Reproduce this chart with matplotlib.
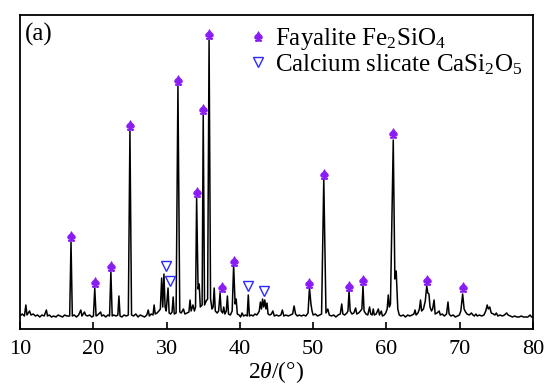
import numpy as np
import matplotlib
matplotlib.use('Agg')
import matplotlib.pyplot as plt
from matplotlib.lines import Line2D

plt.rcParams['font.family'] = ['Liberation Serif', 'DejaVu Serif']
plt.rcParams['mathtext.fontset'] = 'custom'
plt.rcParams['mathtext.rm'] = 'Liberation Serif'
plt.rcParams['mathtext.it'] = 'Liberation Serif:italic'

# XRD pattern (2theta in degrees, intensity in arbitrary units)
two_theta = [10.0, 10.3, 10.6, 10.8, 10.95, 11.3, 11.5, 11.8, 12.1, 12.4, 12.7, 13.0, 13.3, 13.6, 13.75,
             14.0, 14.3, 14.6, 14.9, 15.2, 15.5, 15.8, 16.1, 16.4, 16.78, 16.96, 17.14, 17.4, 17.7, 18.0,
             18.3, 18.45, 18.8, 18.95, 19.2, 19.5, 19.8, 20.02, 20.2, 20.38, 20.6, 21.0, 21.15, 21.4, 21.7,
             22.0, 22.22, 22.4, 22.58, 22.8, 23.1, 23.35, 23.5, 23.65, 23.9, 24.2, 24.5, 24.78, 25.0, 25.22,
             25.5, 25.8, 26.1, 26.4, 26.7, 27.0, 27.3, 27.5, 27.65, 27.9, 28.15, 28.3, 28.45, 28.7, 28.95,
             29.15, 29.33, 29.48, 29.64, 29.8, 29.95, 30.2, 30.35, 30.55, 30.75, 30.9, 31.05, 31.3, 31.55, 31.8,
             32.0, 32.3, 32.5, 32.8, 33.05, 33.2, 33.35, 33.6, 33.8, 33.95, 34.1, 34.3, 34.45, 34.6, 34.85,
             35.0, 35.18, 35.4, 35.6, 35.8, 36.0, 36.2, 36.35, 36.5, 36.65, 36.9, 37.1, 37.3, 37.45, 37.65,
             37.8, 37.95, 38.15, 38.3, 38.45, 38.7, 38.95, 39.15, 39.35, 39.5, 39.65, 39.9, 40.1, 40.3, 40.5,
             40.8, 41.0, 41.15, 41.3, 41.55, 41.8, 42.05, 42.3, 42.5, 42.65, 42.8, 42.95, 43.1, 43.25, 43.4,
             43.55, 43.7, 43.85, 44.1, 44.3, 44.5, 44.7, 45.0, 45.3, 45.6, 45.8, 46.0, 46.3, 46.6, 46.9,
             47.2, 47.4, 47.6, 47.85, 48.1, 48.4, 48.7, 49.0, 49.3, 49.5, 49.7, 49.85, 50.0, 50.3, 50.6,
             50.9, 51.15, 51.45, 51.75, 52.0, 52.2, 52.5, 52.8, 53.1, 53.4, 53.7, 53.9, 54.05, 54.3, 54.6,
             54.75, 54.9, 55.05, 55.3, 55.55, 55.8, 55.95, 56.2, 56.45, 56.65, 56.8, 56.95, 57.2, 57.45, 57.7,
             57.85, 58.05, 58.2, 58.35, 58.6, 58.9, 59.05, 59.3, 59.45, 59.7, 59.9, 60.1, 60.25, 60.4, 60.55,
             60.93, 61.15, 61.33, 61.55, 61.75, 62.0, 62.3, 62.6, 62.9, 63.2, 63.5, 63.75, 63.9, 64.05, 64.3,
             64.5, 64.65, 64.8, 65.05, 65.3, 65.5, 65.65, 65.8, 65.95, 66.15, 66.3, 66.5, 66.65, 66.9, 67.2,
             67.35, 67.6, 67.9, 68.2, 68.4, 68.55, 68.8, 69.1, 69.4, 69.7, 69.95, 70.15, 70.4, 70.6, 70.8,
             71.0, 71.3, 71.6, 71.8, 72.0, 72.2, 72.4, 72.7, 73.0, 73.3, 73.55, 73.75, 73.9, 74.1, 74.3,
             74.6, 74.8, 75.0, 75.2, 75.5, 75.8, 76.1, 76.4, 76.6, 76.9, 77.2, 77.5, 77.8, 78.1, 78.4,
             78.7, 79.0, 79.3, 79.6, 79.8, 80.0]
intensity = [13, 15, 13, 24, 14, 18, 14, 15, 13, 14, 12, 14, 13, 19, 13,
             14, 12, 13, 12, 14, 13, 12, 14, 13, 13, 87, 13, 14, 12, 14,
             19, 13, 17, 14, 13, 14, 12, 13, 41, 13, 14, 17, 13, 14, 12,
             14, 13, 57, 13, 14, 13, 14, 33, 13, 12, 14, 13, 14, 198, 14,
             13, 15, 12, 14, 13, 12, 14, 19, 13, 15, 14, 24, 15, 16, 18,
             20, 51, 22, 55, 22, 18, 41, 16, 15, 17, 32, 15, 16, 243, 17,
             16, 20, 15, 16, 17, 29, 18, 24, 18, 22, 131, 40, 45, 22, 24,
             214, 24, 28, 30, 289, 30, 20, 22, 41, 18, 16, 18, 36, 18, 16,
             22, 15, 18, 33, 15, 14, 18, 64, 25, 30, 15, 14, 12, 16, 13,
             14, 13, 34, 13, 14, 13, 15, 14, 16, 18, 27, 20, 30, 22, 29,
             20, 26, 15, 14, 15, 18, 13, 14, 13, 14, 19, 13, 14, 13, 14,
             15, 23, 15, 13, 14, 13, 14, 13, 16, 41, 25, 18, 14, 15, 13,
             14, 15, 150, 16, 20, 14, 13, 14, 12, 14, 15, 25, 15, 14, 16,
             18, 38, 18, 15, 16, 21, 15, 16, 18, 20, 43, 18, 15, 14, 22,
             15, 14, 20, 14, 15, 20, 14, 18, 13, 14, 16, 20, 34, 22, 25,
             189, 50, 58, 20, 14, 13, 14, 12, 14, 13, 14, 15, 19, 14, 16,
             20, 29, 18, 20, 28, 43, 36, 35, 22, 18, 20, 29, 15, 16, 18,
             14, 15, 13, 15, 27, 15, 13, 14, 12, 13, 14, 18, 35, 20, 17,
             15, 14, 16, 14, 13, 15, 13, 14, 13, 14, 18, 24, 20, 22, 16,
             15, 14, 16, 13, 14, 13, 14, 16, 14, 13, 12, 13, 12, 12, 13,
             12, 12, 12, 14, 12, 12]

# indexed reflections
fayalite_pos = [16.96, 20.2, 22.4, 25.0, 31.55, 34.1, 35.0, 35.8, 37.5, 39.15,
                49.5, 51.45, 54.9, 56.8, 60.93, 65.5, 70.4]
fayalite_height = [87, 41, 57, 198, 243, 131, 214, 289, 36, 62,
                   40, 149, 37, 43, 190, 43, 36]
silicate_pos = [29.9, 30.4, 41.15, 43.3]
silicate_height = [55, 40, 35, 30]

fig = plt.figure(figsize=(5.45, 3.9), dpi=100)
ax = fig.add_axes([0.0367, 0.1564, 0.9413, 0.8051])

ax.plot(two_theta, intensity, color='black', lw=1.1)

purple = '#8a1cf5'
blue = '#2a2aff'
ax.plot(fayalite_pos, np.array(fayalite_height) + 6, linestyle='none',
        marker=r'$\spadesuit$', color=purple, markersize=6.5)
ax.plot(silicate_pos, np.array(silicate_height) + 8, linestyle='none',
        marker='v', markerfacecolor='none', markeredgecolor=blue,
        markersize=7, markeredgewidth=1.0)

ax.set_xlim(10, 80)
ax.set_ylim(0, 314)
ax.set_yticks([])
ax.set_xticks(range(10, 81, 10))
ax.tick_params(axis='x', direction='in', length=5, width=1.2, labelsize=16, pad=8)
for s in ax.spines.values():
    s.set_linewidth(1.3)

ax.set_xlabel(r'2$\theta$/(°)', fontsize=17, labelpad=0)
ax.text(0.01, 0.975, '(a)', transform=ax.transAxes, fontsize=18, va='top', ha='left')

handles = [Line2D([], [], linestyle='none', marker=r'$\spadesuit$', color=purple, markersize=6.5),
           Line2D([], [], linestyle='none', marker='v', markerfacecolor='none',
                  markeredgecolor=blue, markersize=7)]
labels = [r'Fayalite Fe$_2$SiO$_4$', r'Calcium slicate CaSi$_2$O$_5$']
ax.legend(handles, labels, loc='upper left', bbox_to_anchor=(0.444, 0.965), frameon=False,
          fontsize=18, handlelength=0.8, handletextpad=0.28, labelspacing=0.0,
          borderaxespad=0.0, borderpad=0.0)

fig.savefig('out.png', dpi=100)
